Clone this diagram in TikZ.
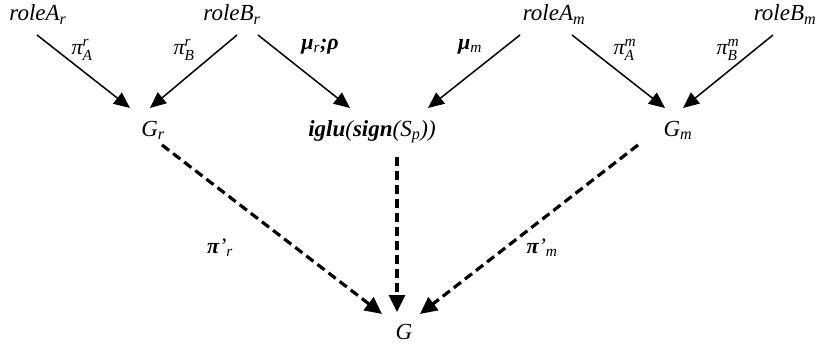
\documentclass[tikz,border=0pt]{standalone}
\usepackage{amsmath}
\usepackage{fontspec}
\setmainfont{Liberation Serif}
\usetikzlibrary{arrows.meta}
\begin{document}
\begin{tikzpicture}[x=1pt,y=-1pt,
  term/.style={font=\fontsize{23}{27}\selectfont\itshape, inner sep=0pt, anchor=base},
  elbl/.style={font=\fontsize{22}{26}\selectfont\itshape, inner sep=0pt},
  sarrow/.style={line width=1.5pt, -{Triangle[length=16pt,width=14pt]}},
  darrow/.style={line width=3.2pt, dash pattern=on 9pt off 5pt, -{Triangle[length=17pt,width=16pt]}}]
\useasboundingbox (0,0) rectangle (830,345);
% nodes
\node[term] (rAr) at (38,21) {roleA$_{\textit{r}}$};
\node[term] (rBr) at (232,21) {roleB$_{\textit{r}}$};
\node[term] (rAm) at (554,21) {roleA$_{\textit{m}}$};
\node[term] (rBm) at (785,21) {roleB$_{\textit{m}}$};
\node[term] (Gr) at (153,136) {G$_{\textit{r}}$};
\node[term] (ig) at (372,136) {\textbf{iglu}(\textbf{sign}(S$_{\textit{p}}$))};
\node[term] (Gm) at (678,136) {G$_{\textit{m}}$};
\node[term] (G) at (404,339) {G};
% solid arrows
\draw[sarrow] ([shift={(-1,14)}]rAr.base) -- ([shift={(-23,-28)}]Gr.base);
\draw[sarrow] ([shift={(5,14)}]rBr.base) -- ([shift={(-3,-28)}]Gr.base);
\draw[sarrow] ([shift={(26,14)}]rBr.base) -- ([shift={(-22,-28)}]ig.base);
\draw[sarrow] ([shift={(-34,14)}]rAm.base) -- ([shift={(56,-28)}]ig.base);
\draw[sarrow] ([shift={(18,14)}]rAm.base) -- ([shift={(-13,-28)}]Gm.base);
\draw[sarrow] ([shift={(-12,14)}]rBm.base) -- ([shift={(5,-28)}]Gm.base);
% dashed arrows
\draw[darrow] ([shift={(9,9)}]Gr.base) -- ([shift={(-22,-25)}]G.base);
\draw[darrow] ([shift={(25,21)}]ig.base) -- ([shift={(-7,-27)}]G.base);
\draw[darrow] ([shift={(-40,9)}]Gm.base) -- ([shift={(16,-25)}]G.base);
% labels
\node[elbl] (lAr) at (82,50) {π$^{\textit{r}}_{\textit{A}}$};
\node[elbl] (lBr) at (184,50) {π$^{\textit{r}}_{\textit{B}}$};
\node[elbl] (lmr) at (320,47) {\textbf{μ}$_{\textit{r}}$\textbf{;ρ}};
\node[elbl] (lmm) at (470,47) {\textbf{μ}$_{\textit{m}}$};
\node[elbl] (lAm) at (625,50) {π$^{\textit{m}}_{\textit{A}}$};
\node[elbl] (lBm) at (728,50) {π$^{\textit{m}}_{\textit{B}}$};
\node[elbl] (lpr) at (220,248) {\textbf{π}’$_{\textit{r}}$};
\node[elbl] (lpm) at (542,248) {\textbf{π}’$_{\textit{m}}$};
\end{tikzpicture}
\end{document}
